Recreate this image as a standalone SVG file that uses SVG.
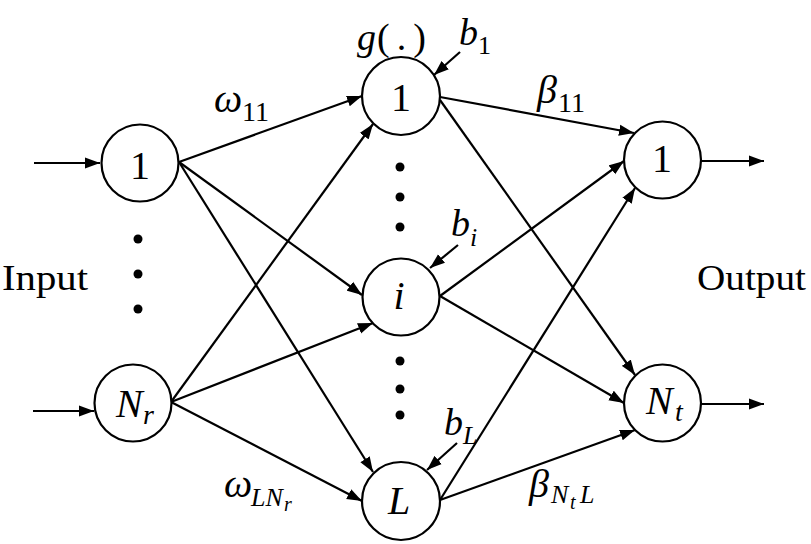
<svg xmlns="http://www.w3.org/2000/svg" width="811" height="544" viewBox="0 0 811 544">
<style>
.n{fill:#fff;stroke:#000;stroke-width:2.2}
.e{stroke:#000;stroke-width:2.2;fill:none;marker-end:url(#ah)}
.t{font-family:"Liberation Serif",serif;fill:#000}
.m{font-family:"Liberation Serif",serif;font-style:italic;fill:#000}
.s{font-family:"Liberation Serif",serif;fill:#000}
.d{fill:#000}
</style>
<defs>
<marker id="ah" markerUnits="userSpaceOnUse" markerWidth="16" markerHeight="12" refX="15" refY="6" orient="auto">
<path d="M0,0.5 L15,6 L0,11.5 z" fill="#000"/>
</marker>
</defs>
<g id="connectors">
<line class="e" x1="34" y1="163" x2="100" y2="163"/>
<line class="e" x1="33" y1="411" x2="94" y2="411"/>
<line class="e" x1="179" y1="162" x2="362" y2="96"/>
<line class="e" x1="179" y1="162" x2="362" y2="295"/>
<line class="e" x1="179" y1="162" x2="373" y2="472"/>
<line class="e" x1="171" y1="402" x2="373" y2="124"/>
<line class="e" x1="171" y1="402" x2="373" y2="323"/>
<line class="e" x1="171" y1="402" x2="362" y2="501"/>
<line class="e" x1="440" y1="97" x2="634" y2="133"/>
<line class="e" x1="440" y1="100" x2="635" y2="375"/>
<line class="e" x1="440" y1="296" x2="624" y2="161"/>
<line class="e" x1="440" y1="296" x2="624" y2="403"/>
<line class="e" x1="440" y1="500" x2="635" y2="188"/>
<line class="e" x1="440" y1="500" x2="635" y2="430"/>
<line class="e" x1="701" y1="161" x2="764" y2="161"/>
<line class="e" x1="701" y1="404" x2="764" y2="404"/>
<line class="e" x1="460" y1="52" x2="434" y2="75"/>
<line class="e" x1="458" y1="245" x2="430" y2="268"/>
<line class="e" x1="457" y1="443" x2="427" y2="470"/>
</g>
<g id="in1"><circle class="n" cx="140" cy="163" r="38.5"/><text class="t" x="140" y="179" font-size="40" text-anchor="middle">1</text></g>
<g id="inNr"><circle class="n" cx="133" cy="403" r="38.5"/><text class="m" x="116" y="417" font-size="40">N</text><text class="m" x="143" y="424" font-size="28">r</text></g>
<g id="h1"><circle class="n" cx="401" cy="96" r="39"/><text class="t" x="401" y="111" font-size="40" text-anchor="middle">1</text></g>
<g id="hi"><circle class="n" cx="401" cy="297" r="38.5"/><text class="m" x="399" y="309" font-size="40" text-anchor="middle">i</text></g>
<g id="hL"><circle class="n" cx="401" cy="501" r="39"/><text class="m" x="399" y="514" font-size="40" text-anchor="middle">L</text></g>
<g id="o1"><circle class="n" cx="662.5" cy="160" r="38.5"/><text class="t" x="662" y="172" font-size="40" text-anchor="middle">1</text></g>
<g id="oNt"><circle class="n" cx="662.5" cy="403" r="38.5"/><text class="m" x="646" y="414" font-size="40">N</text><text class="m" x="675" y="421" font-size="28">t</text></g>
<g id="labels">
<text class="m" x="357" y="50" font-size="38">g</text><text class="s" x="377" y="50" font-size="38" letter-spacing="7">(.)</text>
<text class="m" x="459" y="45" font-size="38">b</text><text class="s" x="478" y="54" font-size="26">1</text>
<text class="m" x="451" y="236" font-size="38">b</text><text class="m" x="470" y="246" font-size="26">i</text>
<text class="m" x="444" y="435" font-size="38">b</text><text class="m" x="463" y="444" font-size="26">L</text>
<text class="m" x="214" y="112" font-size="40">ω</text><text class="s" x="242" y="121" font-size="28">11</text>
<text class="m" x="224" y="497" font-size="40">ω</text><text class="m" x="251" y="506" font-size="26">LN</text><text class="m" x="284" y="511" font-size="20">r</text>
<text class="m" x="537" y="103" font-size="40">β</text><text class="s" x="558" y="112" font-size="28">11</text>
<text class="m" x="529" y="497" font-size="40">β</text><text class="m" x="551" y="503" font-size="26">N</text><text class="m" x="570" y="509" font-size="20">t</text><text class="m" x="580" y="503" font-size="26">L</text>
<text class="t" x="2" y="290" font-size="36" textLength="86" lengthAdjust="spacingAndGlyphs">Input</text>
<text class="t" x="697" y="290" font-size="36" textLength="109" lengthAdjust="spacingAndGlyphs">Output</text>
</g>
<g id="dots">
<circle class="d" cx="138" cy="239" r="4.5"/><circle class="d" cx="138" cy="274" r="4.5"/><circle class="d" cx="138" cy="309" r="4.5"/>
<circle class="d" cx="400" cy="167" r="4.5"/><circle class="d" cx="400" cy="197" r="4.5"/><circle class="d" cx="400" cy="227" r="4.5"/>
<circle class="d" cx="400" cy="361" r="4.5"/><circle class="d" cx="400" cy="389" r="4.5"/><circle class="d" cx="400" cy="415" r="4.5"/>
</g>
</svg>
